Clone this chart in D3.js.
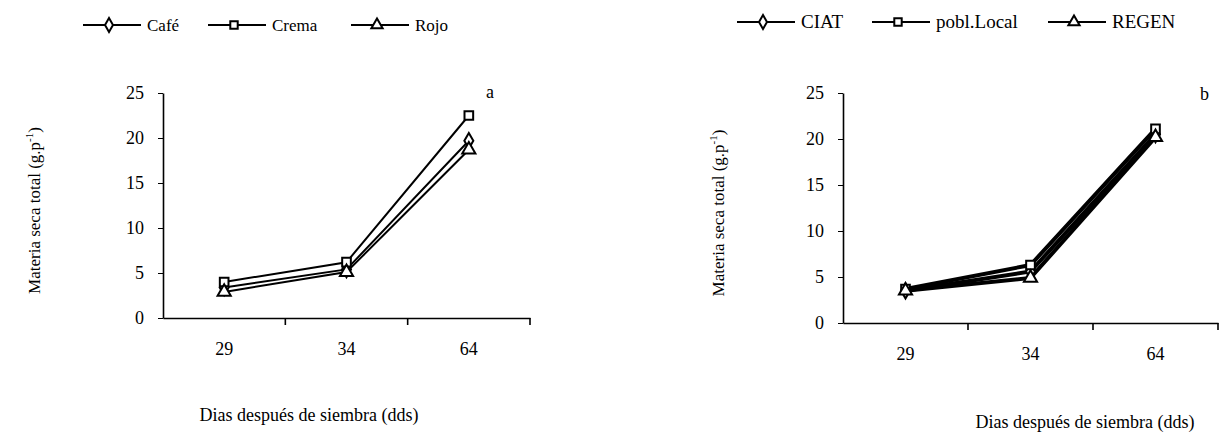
<!DOCTYPE html>
<html>
  <head>
    <meta charset="utf-8">
    <script type="text/javascript" src="https://d3js.org/d3.v7.min.js"></script>
    <style>
      body { margin: 0; background: #fff; }
      text { font-family: "Liberation Serif", "DejaVu Serif", serif; fill: #000; }
    </style>
  </head>
  <body>
    <script type="text/javascript">

var days = ["29", "34", "64"];
var yTicks = [0, 5, 10, 15, 20, 25];

// panel a
var seriesA = ["Café", "Crema", "Rojo"];
var cafe  = [3.4, 5.4, 19.7];
var crema = [4.0, 6.2, 22.5];
var rojo  = [2.9, 5.1, 18.7];

// panel b
var seriesB = ["CIAT", "pobl.Local", "REGEN"];
var ciat   = [3.5, 5.6, 20.5];
var local  = [3.7, 6.3, 21.1];
var regen  = [3.5, 4.9, 20.2];

var symbols = [d3.symbolDiamond, d3.symbolSquare, d3.symbolTriangle];

var w = 1220;
var h = 441;

var svg =
  d3.select("body")
    .append("svg")
    .attr("width", w)
    .attr("height", h);

function panel(p) {
  var x = d3.scaleBand().domain(days).range([p.x0, p.x1]);
  var y = d3.scaleLinear().domain([0, 25]).range([p.yb, p.yt]);
  var g = svg.append("g");

  // y axis
  var ya = g.append("g")
    .attr("transform", "translate(" + p.x0 + ",0)")
    .call(d3.axisLeft(y).tickValues(yTicks).tickSize(5).tickSizeOuter(0).tickPadding(14));
  ya.select(".domain").attr("stroke-width", 1.6);
  ya.selectAll("text").style("font-size", "18px").style("font-family", "Liberation Serif");

  // x axis (labels at band centres, ticks at band edges)
  var xa = g.append("g")
    .attr("transform", "translate(0," + p.yb + ")")
    .call(d3.axisBottom(x).tickSize(0).tickPadding(24));
  xa.select(".domain").attr("stroke-width", 1.6);
  xa.selectAll("text").style("font-size", "18px").style("font-family", "Liberation Serif");
  g.selectAll("line.xt")
    .data(days)
    .enter()
    .append("line")
    .attr("x1", function(d) { return x(d) + x.bandwidth(); })
    .attr("x2", function(d) { return x(d) + x.bandwidth(); })
    .attr("y1", p.yb)
    .attr("y2", p.yb + 7)
    .attr("stroke", "#000")
    .attr("stroke-width", 1.6);

  var line = d3.line()
    .x(function(d, i) { return x(days[i]) + x.bandwidth() / 2; })
    .y(function(d) { return y(d); });

  p.values.forEach(function(vals, k) {
    g.append("path")
      .attr("d", line(vals))
      .attr("fill", "none")
      .attr("stroke", "#000")
      .attr("stroke-width", p.lw);
  });
  p.values.forEach(function(vals, k) {
    g.selectAll("path.m" + k)
      .data(vals)
      .enter()
      .append("path")
      .attr("d", d3.symbol().type(symbols[k]).size(k == 0 ? 70 : 75))
      .attr("transform", function(d, i) {
        return "translate(" + (x(days[i]) + x.bandwidth() / 2) + "," + y(d) + ")";
      })
      .attr("fill", "#fff")
      .attr("stroke", "#000")
      .attr("stroke-width", 2);
  });

  // legend
  p.names.forEach(function(n, k) {
    var lx = p.legX[k];
    g.append("line")
      .attr("x1", lx).attr("x2", lx + 58)
      .attr("y1", p.legY).attr("y2", p.legY)
      .attr("stroke", "#000").attr("stroke-width", 2);
    g.append("path")
      .attr("d", d3.symbol().type(symbols[k]).size(55))
      .attr("transform", "translate(" + (lx + 26) + "," + p.legY + ")")
      .attr("fill", "#fff").attr("stroke", "#000").attr("stroke-width", 2);
    g.append("text")
      .attr("x", lx + 64).attr("y", p.legY + 6)
      .style("font-size", p.legFont)
      .text(n);
  });

  // y title
  var yt = g.append("text")
    .attr("transform", "translate(" + p.ytx + "," + ((p.yb + p.yt) / 2 + 5) + ") rotate(-90)")
    .attr("text-anchor", "middle")
    .style("font-size", "17px");
  yt.append("tspan").text("Materia seca total (g.p");
  yt.append("tspan").attr("dy", -7).style("font-size", "11px").text("-1");
  yt.append("tspan").attr("dy", 7).text(")");

  // x title
  g.append("text")
    .attr("x", p.xtx).attr("y", p.xty)
    .attr("text-anchor", "middle")
    .style("font-size", "18px")
    .text("Dias después de siembra (dds)");

  g.append("text")
    .attr("x", p.letterX).attr("y", p.letterY)
    .style("font-size", "18px")
    .text(p.letter);
}

panel({
  x0: 163, x1: 530, yb: 318, yt: 93, lw: 2,
  values: [cafe, crema, rojo], names: seriesA, legFont: "17px",
  legX: [83, 208, 351], legY: 25,
  ytx: 40, xtx: 309, xty: 421, letter: "a", letterX: 486, letterY: 98
});

panel({
  x0: 843, x1: 1218, yb: 323, yt: 93, lw: 4,
  values: [ciat, local, regen], names: seriesB, legFont: "19px",
  legX: [737, 872, 1048], legY: 22,
  ytx: 724, xtx: 1085, xty: 428, letter: "b", letterX: 1200, letterY: 100
});

    </script>
  </body>
</html>
